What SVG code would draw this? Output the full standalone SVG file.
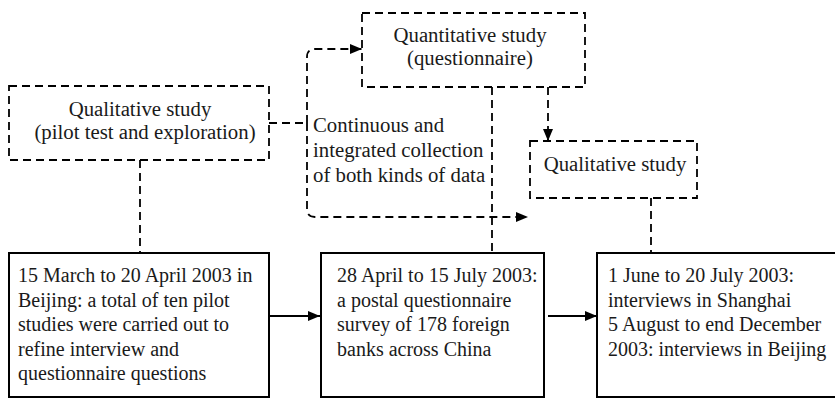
<svg xmlns="http://www.w3.org/2000/svg" width="835" height="398" viewBox="0 0 835 398">
  <style>
    .dash { fill: none; stroke: #000; stroke-width: 1.8; stroke-dasharray: 8 5; }
    .solid { fill: #fff; stroke: #000; stroke-width: 2; }
    .line { fill: none; stroke: #000; stroke-width: 1.8; }
    .lbl { font-family: "Liberation Serif", "Times New Roman", serif; font-size: 20.8px; fill: #1a1a1a; }
    .txt { font-family: "Liberation Serif", "Times New Roman", serif; font-size: 20px; fill: #1a1a1a; }
  </style>
  <defs>
    <marker id="arrow" viewBox="0 0 12 10" refX="12" refY="5" markerWidth="12" markerHeight="10" markerUnits="userSpaceOnUse" orient="auto">
      <path d="M0,0 L12,5 L0,10 Z" fill="#000"/>
    </marker>
  </defs>
  <rect width="835" height="398" fill="#fff"/>

  <!-- connectors -->
  <g id="connectors">
    <path class="dash" d="M140,160 V253"/>
    <path class="dash" d="M269,123 H307"/>
    <!-- bracket: up to the quantitative study, down to the later qualitative study -->
    <path class="dash" d="M307,123 V57 Q307,49 315,49 H362" marker-end="url(#arrow)"/>
    <path class="dash" d="M307,123 V209 Q307,217 315,217 H528" marker-end="url(#arrow)"/>
    <path class="dash" d="M492,87 V253"/>
    <path class="dash" d="M548,87 V141" marker-end="url(#arrow)"/>
    <path class="dash" d="M651,198 V253"/>
    <path class="line" d="M269,316 H320" marker-end="url(#arrow)"/>
    <path class="line" d="M548,316 H597" marker-end="url(#arrow)"/>
  </g>

  <!-- dashed study nodes -->
  <g id="qual-pilot">
    <rect class="dash" x="9" y="86" width="260" height="74"/>
    <text class="lbl" x="140" y="116" text-anchor="middle">Qualitative study</text>
    <text class="lbl" x="145" y="139" text-anchor="middle">(pilot test and exploration)</text>
  </g>
  <g id="quant-study">
    <rect class="dash" x="362" y="13" width="223" height="74"/>
    <text class="lbl" x="470" y="42" text-anchor="middle">Quantitative study</text>
    <text class="lbl" x="470" y="65" text-anchor="middle">(questionnaire)</text>
  </g>
  <g id="qual-study">
    <rect class="dash" x="530" y="141" width="167" height="57"/>
    <text class="lbl" x="615" y="171" text-anchor="middle">Qualitative study</text>
  </g>
  <g id="collection-note">
    <text class="lbl" x="313" y="132">Continuous and</text>
    <text class="lbl" x="313" y="157">integrated collection</text>
    <text class="lbl" x="313" y="182">of both kinds of data</text>
  </g>

  <!-- timeline nodes -->
  <g id="pilot-phase">
    <rect class="solid" x="9" y="253" width="260" height="144"/>
    <text class="txt" x="18" y="282">15 March to 20 April 2003 in</text>
    <text class="txt" x="18" y="306.5">Beijing: a total of ten pilot</text>
    <text class="txt" x="18" y="331">studies were carried out to</text>
    <text class="txt" x="18" y="355.5">refine interview and</text>
    <text class="txt" x="18" y="380">questionnaire questions</text>
  </g>
  <g id="survey-phase">
    <rect class="solid" x="321" y="253" width="223" height="144"/>
    <text class="txt" x="337" y="282">28 April to 15 July 2003:</text>
    <text class="txt" x="337" y="306.5">a postal questionnaire</text>
    <text class="txt" x="337" y="331">survey of 178 foreign</text>
    <text class="txt" x="337" y="355.5">banks across China</text>
  </g>
  <g id="interview-phase">
    <rect class="solid" x="597" y="253" width="250" height="144"/>
    <text class="txt" x="608" y="282">1 June to 20 July 2003:</text>
    <text class="txt" x="608" y="306.5">interviews in Shanghai</text>
    <text class="txt" x="608" y="331">5 August to end December</text>
    <text class="txt" x="608" y="355.5">2003: interviews in Beijing</text>
  </g>
</svg>
